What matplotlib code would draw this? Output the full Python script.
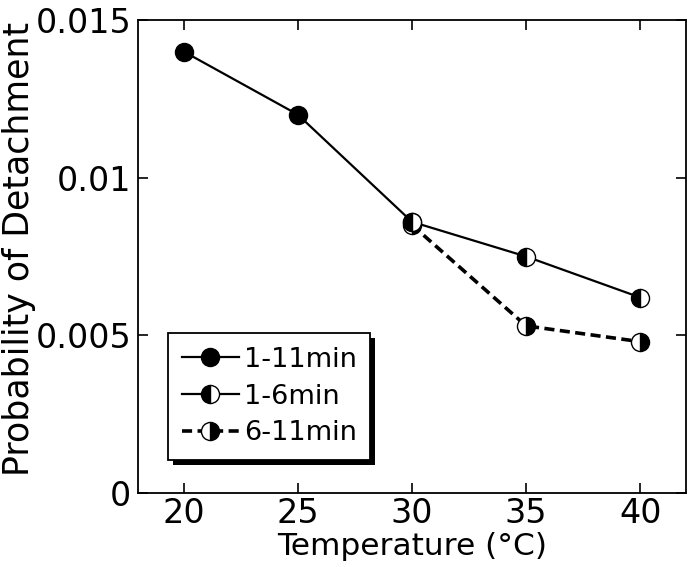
import matplotlib
matplotlib.use("Agg")
import matplotlib.pyplot as plt
from matplotlib.patches import Rectangle
from matplotlib.transforms import IdentityTransform

plt.rcParams['font.family'] = ['DejaVu Sans']

# Data
temp_a = [20, 25, 30]
prob_1_11 = [0.0140, 0.0120, 0.0086]

temp_b = [30, 35, 40]
prob_1_6 = [0.0086, 0.0075, 0.0062]
prob_6_11 = [0.0085, 0.0053, 0.0048]

xticks = [20, 25, 30, 35, 40]
yticks = [0, 0.005, 0.01, 0.015]
ytick_labels = ['0', '0.005', '0.01', '0.015']

fig = plt.figure(figsize=(6.88, 5.67), dpi=100)
ax = fig.add_axes([0.2006, 0.1305, 0.7964, 0.8342])

ms = 13
ax.plot(temp_b, prob_6_11, color='black', lw=2.6, ls=(0, (2.8, 1.5)),
        marker='o', ms=ms, fillstyle='right', mfc='black', mfcalt='white',
        mec='black', mew=1, label='6-11min', zorder=3)
ax.plot(temp_a, prob_1_11, color='black', lw=1.6, marker='o', ms=ms,
        mfc='black', mec='black', label='1-11min', zorder=3)
ax.plot(temp_b, prob_1_6, color='black', lw=1.6, marker='o', ms=ms,
        fillstyle='left', mfc='black', mfcalt='white', mec='black', mew=1,
        label='1-6min', zorder=4)

ax.set_xlim(18, 42)
ax.set_ylim(0, 0.015)
ax.set_xticks(xticks)
ax.set_yticks(yticks)
ax.set_yticklabels(ytick_labels)
ax.tick_params(direction='in', length=7, width=1.2, top=True, right=True,
               labelsize=24)
ax.tick_params(axis='x', pad=3)
ax.tick_params(axis='y', pad=5)
for s in ax.spines.values():
    s.set_linewidth(1.3)

ax.set_xlabel('Temperature (°C)', fontsize=22.5, labelpad=1)
ax.set_ylabel('Probability of Detachment', fontsize=25)
ax.yaxis.set_label_coords(-0.186, 0.515)

handles, labels = ax.get_legend_handles_labels()
order = [1, 2, 0]
leg = ax.legend([handles[i] for i in order], [labels[i] for i in order],
                loc='lower left', bbox_to_anchor=(0.055, 0.07), fontsize=19.5,
                frameon=True, fancybox=False, edgecolor='black',
                facecolor='white', framealpha=1,
                handlelength=2.1, handletextpad=0.2, borderpad=0.5,
                labelspacing=0.4, borderaxespad=0)
leg.get_frame().set_linewidth(1.3)
leg.set_zorder(5)

# solid drop shadow behind the legend box
fig.canvas.draw()
bb = leg.get_frame().get_window_extent()
ax.add_patch(Rectangle((bb.x0 + 5, bb.y0 - 5), bb.width, bb.height,
                       transform=IdentityTransform(), facecolor='black',
                       edgecolor='none', zorder=4.9, clip_on=False))

fig.savefig('out.png', dpi=100)
